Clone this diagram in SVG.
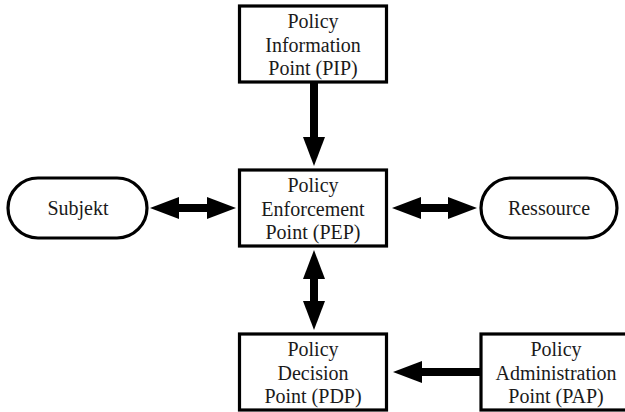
<svg xmlns="http://www.w3.org/2000/svg" width="625" height="412" viewBox="0 0 625 412">
<style>
.box{fill:#fff;stroke:#000;stroke-width:3.2}
.t{font-family:'Liberation Serif','DejaVu Serif',serif;font-size:20px;fill:#1a1a1a;text-anchor:middle}
.c{stroke:#000;stroke-width:8;fill:none}
</style>
<defs>
<marker id="ah" markerUnits="userSpaceOnUse" markerWidth="30" markerHeight="23" refX="1" refY="11.5" orient="auto-start-reverse" viewBox="0 0 30 23">
<path d="M0,0.5 L29,11.5 L0,22.5 z" fill="#000"/>
</marker>
</defs>
<rect width="625" height="412" fill="#fff"/>
<g id="connectors">
<line class="c" x1="314" y1="83" x2="314" y2="138" marker-end="url(#ah)"/>
<line class="c" x1="178" y1="208" x2="208" y2="208" marker-start="url(#ah)" marker-end="url(#ah)"/>
<line class="c" x1="420" y1="208" x2="449" y2="208" marker-start="url(#ah)" marker-end="url(#ah)"/>
<line class="c" x1="314" y1="278" x2="314" y2="302" marker-start="url(#ah)" marker-end="url(#ah)"/>
<line class="c" x1="480" y1="372" x2="421" y2="372" marker-end="url(#ah)"/>
</g>
<g id="pip">
<rect class="box" x="239.5" y="6" width="147" height="76"/>
<text class="t" x="313" y="28">Policy</text>
<text class="t" x="313" y="52">Information</text>
<text class="t" x="313" y="75">Point (PIP)</text>
</g>
<g id="pep">
<rect class="box" x="239.5" y="170" width="147" height="76"/>
<text class="t" x="313" y="192">Policy</text>
<text class="t" x="313" y="216">Enforcement</text>
<text class="t" x="313" y="239">Point (PEP)</text>
</g>
<g id="subjekt">
<rect class="box" x="8" y="178" width="139" height="60" rx="30" ry="30"/>
<text class="t" x="78" y="215">Subjekt</text>
</g>
<g id="ressource">
<rect class="box" x="481" y="178" width="136" height="60" rx="30" ry="30"/>
<text class="t" x="549" y="215">Ressource</text>
</g>
<g id="pdp">
<rect class="box" x="239.5" y="334" width="147" height="76"/>
<text class="t" x="313" y="356">Policy</text>
<text class="t" x="313" y="380">Decision</text>
<text class="t" x="313" y="403">Point (PDP)</text>
</g>
<g id="pap">
<rect class="box" x="481" y="334" width="147" height="76"/>
<text class="t" x="556" y="356">Policy</text>
<text class="t" x="556" y="380">Administration</text>
<text class="t" x="556" y="403">Point (PAP)</text>
</g>
</svg>
